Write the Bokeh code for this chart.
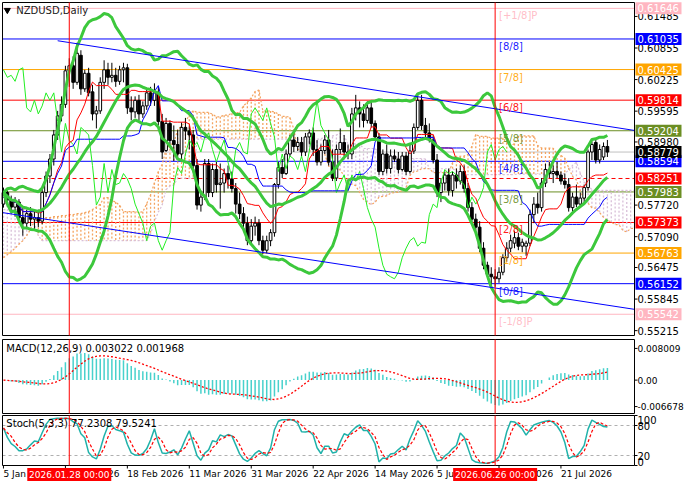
import numpy as np
import pandas as pd
from bokeh.plotting import figure
from bokeh.layouts import column
from bokeh.models import Range1d
from bokeh.embed import file_html
from bokeh.resources import INLINE
from bokeh.core.properties import value

FONT = "DejaVu Sans"

symbol_title = "NZDUSD,Daily"
x_tick_bars = [0, 16, 32, 48, 64, 80, 96, 112, 128, 144]
x_tick_labels = ["5 Jan 2026", "28 Jan 2026", "18 Feb 2026", "11 Mar 2026", "31 Mar 2026",
                 "22 Apr 2026", "14 May 2026", "5 Jun 2026", "26 Jun 2026", "21 Jul 2026"]
cursor_bars = [17, 127]
cursor_labels = ["2026.01.28 00:00", "2026.06.26 00:00"]

open_ = [0.5774, 0.5797, 0.5782, 0.5768, 0.5778, 0.5747, 0.5736, 0.5755, 0.5744, 0.5747,
         0.5740, 0.5797, 0.5830, 0.5864, 0.5912, 0.5950, 0.5973, 0.6040, 0.6050, 0.6017,
         0.6071, 0.6004, 0.6035, 0.5998, 0.5954, 0.5960, 0.6017, 0.6042, 0.6027, 0.6031,
         0.6019, 0.6042, 0.6046, 0.5966, 0.5958, 0.5981, 0.5954, 0.5970, 0.5996, 0.5981,
         0.5996, 0.5939, 0.5881, 0.5935, 0.5901, 0.5893, 0.5874, 0.5927, 0.5920, 0.5912,
         0.5851, 0.5772, 0.5788, 0.5855, 0.5797, 0.5843, 0.5813, 0.5816, 0.5835, 0.5824,
         0.5805, 0.5774, 0.5755, 0.5736, 0.5701, 0.5730, 0.5736, 0.5701, 0.5682, 0.5701,
         0.5717, 0.5813, 0.5847, 0.5835, 0.5874, 0.5902, 0.5889, 0.5897, 0.5878, 0.5908,
         0.5916, 0.5883, 0.5858, 0.5881, 0.5902, 0.5858, 0.5826, 0.5883, 0.5897, 0.5878,
         0.5874, 0.5954, 0.5966, 0.5954, 0.5941, 0.5966, 0.5935, 0.5908, 0.5839, 0.5874,
         0.5845, 0.5870, 0.5864, 0.5843, 0.5870, 0.5839, 0.5880, 0.5927, 0.5981, 0.5931,
         0.5916, 0.5902, 0.5862, 0.5797, 0.5816, 0.5832, 0.5801, 0.5832, 0.5820, 0.5839,
         0.5805, 0.5767, 0.5744, 0.5728, 0.5686, 0.5652, 0.5634, 0.5629, 0.5625, 0.5638,
         0.5667, 0.5686, 0.5696, 0.5707, 0.5690, 0.5690, 0.5696, 0.5753, 0.5774, 0.5767,
         0.5816, 0.5843, 0.5835, 0.5839, 0.5832, 0.5820, 0.5813, 0.5767, 0.5788, 0.5774,
         0.5786, 0.5807, 0.5878, 0.5897, 0.5862, 0.5868, 0.5889]
high = [0.5807, 0.5801, 0.5791, 0.5788, 0.5784, 0.5768, 0.5763, 0.5768, 0.5759, 0.5763,
        0.5805, 0.5839, 0.5874, 0.5922, 0.5960, 0.5989, 0.6050, 0.6065, 0.6069, 0.6096,
        0.6081, 0.6042, 0.6046, 0.6012, 0.5970, 0.6027, 0.6061, 0.6056, 0.6056, 0.6046,
        0.6050, 0.6056, 0.6054, 0.5989, 0.5989, 0.5992, 0.5979, 0.6004, 0.6008, 0.6015,
        0.6008, 0.5954, 0.5946, 0.5941, 0.5931, 0.5922, 0.5937, 0.5946, 0.5931, 0.5922,
        0.5864, 0.5801, 0.5864, 0.5864, 0.5855, 0.5858, 0.5855, 0.5845, 0.5851, 0.5839,
        0.5816, 0.5797, 0.5768, 0.5749, 0.5744, 0.5749, 0.5744, 0.5711, 0.5711, 0.5724,
        0.5816, 0.5858, 0.5864, 0.5883, 0.5912, 0.5920, 0.5908, 0.5908, 0.5916, 0.5923,
        0.5927, 0.5902, 0.5893, 0.5912, 0.5922, 0.5883, 0.5893, 0.5925, 0.5912, 0.5893,
        0.5966, 0.5992, 0.5979, 0.5973, 0.5979, 0.5979, 0.5941, 0.5916, 0.5883, 0.5893,
        0.5883, 0.5883, 0.5878, 0.5878, 0.5878, 0.5893, 0.5935, 0.5994, 0.5992, 0.5946,
        0.5935, 0.5912, 0.5874, 0.5826, 0.5839, 0.5845, 0.5839, 0.5845, 0.5851, 0.5851,
        0.5816, 0.5778, 0.5755, 0.5740, 0.5698, 0.5659, 0.5648, 0.5644, 0.5648, 0.5674,
        0.5698, 0.5713, 0.5721, 0.5717, 0.5705, 0.5701, 0.5763, 0.5788, 0.5797, 0.5826,
        0.5855, 0.5858, 0.5851, 0.5858, 0.5839, 0.5835, 0.5826, 0.5797, 0.5813, 0.5797,
        0.5813, 0.5883, 0.5899, 0.5905, 0.5893, 0.5897, 0.5902]
low = [0.5767, 0.5768, 0.5755, 0.5749, 0.5736, 0.5711, 0.5724, 0.5730, 0.5724, 0.5728,
       0.5734, 0.5788, 0.5816, 0.5851, 0.5902, 0.5939, 0.5966, 0.6008, 0.6004, 0.6012,
       0.5992, 0.5998, 0.5989, 0.5941, 0.5925, 0.5954, 0.6004, 0.6012, 0.6017, 0.6008,
       0.6012, 0.6017, 0.5954, 0.5941, 0.5946, 0.5941, 0.5946, 0.5962, 0.5970, 0.5970,
       0.5931, 0.5864, 0.5878, 0.5893, 0.5860, 0.5862, 0.5864, 0.5902, 0.5883, 0.5839,
       0.5763, 0.5759, 0.5782, 0.5788, 0.5788, 0.5797, 0.5765, 0.5797, 0.5805, 0.5797,
       0.5755, 0.5744, 0.5724, 0.5692, 0.5692, 0.5711, 0.5692, 0.5674, 0.5676, 0.5690,
       0.5709, 0.5805, 0.5826, 0.5832, 0.5868, 0.5878, 0.5880, 0.5870, 0.5870, 0.5893,
       0.5870, 0.5851, 0.5851, 0.5874, 0.5851, 0.5820, 0.5820, 0.5874, 0.5870, 0.5864,
       0.5864, 0.5941, 0.5927, 0.5927, 0.5935, 0.5927, 0.5902, 0.5832, 0.5832, 0.5835,
       0.5835, 0.5858, 0.5835, 0.5839, 0.5832, 0.5835, 0.5874, 0.5922, 0.5922, 0.5908,
       0.5897, 0.5855, 0.5788, 0.5778, 0.5801, 0.5791, 0.5789, 0.5805, 0.5813, 0.5797,
       0.5759, 0.5736, 0.5721, 0.5678, 0.5644, 0.5629, 0.5611, 0.5609, 0.5617, 0.5632,
       0.5659, 0.5678, 0.5686, 0.5682, 0.5678, 0.5671, 0.5690, 0.5736, 0.5755, 0.5759,
       0.5808, 0.5826, 0.5816, 0.5826, 0.5813, 0.5805, 0.5759, 0.5759, 0.5768, 0.5767,
       0.5778, 0.5801, 0.5862, 0.5855, 0.5855, 0.5862, 0.5868]
close = [0.5797, 0.5782, 0.5768, 0.5778, 0.5747, 0.5736, 0.5755, 0.5744, 0.5747, 0.5740,
         0.5797, 0.5830, 0.5864, 0.5912, 0.5950, 0.5973, 0.6040, 0.6050, 0.6017, 0.6075,
         0.6004, 0.6035, 0.5996, 0.5954, 0.5960, 0.6017, 0.6042, 0.6027, 0.6031, 0.6019,
         0.6042, 0.6046, 0.5966, 0.5958, 0.5981, 0.5954, 0.5970, 0.5996, 0.5981, 0.5996,
         0.5939, 0.5878, 0.5935, 0.5901, 0.5893, 0.5874, 0.5927, 0.5920, 0.5912, 0.5851,
         0.5772, 0.5788, 0.5855, 0.5797, 0.5843, 0.5813, 0.5816, 0.5835, 0.5824, 0.5805,
         0.5774, 0.5755, 0.5736, 0.5701, 0.5730, 0.5736, 0.5701, 0.5682, 0.5701, 0.5717,
         0.5813, 0.5847, 0.5835, 0.5874, 0.5902, 0.5889, 0.5897, 0.5878, 0.5908, 0.5916,
         0.5883, 0.5858, 0.5881, 0.5902, 0.5858, 0.5826, 0.5883, 0.5897, 0.5878, 0.5874,
         0.5954, 0.5966, 0.5954, 0.5941, 0.5966, 0.5935, 0.5908, 0.5839, 0.5874, 0.5845,
         0.5870, 0.5864, 0.5843, 0.5870, 0.5839, 0.5880, 0.5927, 0.5981, 0.5931, 0.5916,
         0.5902, 0.5862, 0.5797, 0.5816, 0.5832, 0.5801, 0.5832, 0.5820, 0.5839, 0.5805,
         0.5767, 0.5744, 0.5728, 0.5686, 0.5652, 0.5634, 0.5629, 0.5625, 0.5638, 0.5667,
         0.5686, 0.5701, 0.5707, 0.5690, 0.5698, 0.5696, 0.5753, 0.5774, 0.5767, 0.5816,
         0.5843, 0.5835, 0.5839, 0.5832, 0.5820, 0.5813, 0.5767, 0.5788, 0.5774, 0.5786,
         0.5807, 0.5878, 0.5893, 0.5862, 0.5883, 0.5889, 0.58779]

# Ichimoku cloud where the price history is too short
cloud_a_early = [0.5667, 0.5673, 0.5679, 0.5686, 0.5694, 0.5701, 0.5711, 0.5724, 0.5740, 0.5744,
                 0.5745, 0.5747, 0.5747, 0.5749, 0.5749, 0.5751, 0.5751, 0.5753, 0.5753, 0.5755,
                 0.5755, 0.5757, 0.5759, 0.5763, 0.5768, 0.5774]
cloud_b_early = [0.5763, 0.5763, 0.5763, 0.5763, 0.5763, 0.5763, 0.5763, 0.5763, 0.5736, 0.5711,
                 0.5701, 0.5701, 0.5701, 0.5701, 0.5701, 0.5701, 0.5701, 0.5701, 0.5701, 0.5701,
                 0.5701, 0.5701, 0.5701, 0.5701, 0.5701, 0.5701, 0.5701, 0.5701, 0.5701, 0.5701,
                 0.5701, 0.5701, 0.5701, 0.5701, 0.5701, 0.5701, 0.5701, 0.5701, 0.5715, 0.5739,
                 0.5758, 0.5772, 0.5803, 0.5810, 0.5812, 0.5826, 0.5826, 0.5826, 0.5826, 0.5826]

murrey_levels = [0.61646, 0.61035, 0.60425, 0.59814, 0.59204, 0.58594, 0.57983, 0.57373, 0.56763, 0.56152, 0.55542]
murrey_names = ["[+1/8]P", "[8/8]", "[7/8]", "[6/8]", "[5/8]", "[4/8]", "[3/8]", "[2/8]", "[1/8]", "[0/8]", "[-1/8]P"]
murrey_colors = ["#FFB6C1", "#0000FF", "#FFA500", "#FF0000", "#6B8E23", "#0000FF", "#6B8E23",
                 "#FF0000", "#FFA500", "#0000FF", "#FFB6C1"]
support_level = 0.58251
last_price = 0.58779
price_ticks = [0.61485, 0.60855, 0.60225, 0.59595, 0.58980, 0.57720, 0.57090, 0.56475, 0.55845, 0.55215]
channel_upper_bar = [14, 163]
channel_upper_price = [0.6100, 0.5921]
channel_lower_bar = [-0.25, 163]
channel_lower_price = [0.5757, 0.5564]
macd_text = "MACD(12,26,9) 0.003022 0.001968"
stoch_text = "Stoch(5,3,3) 77.2308 79.5241"
macd_ticks = [0.008009, 0.0, -0.006678]
macd_tick_labels = ["0.008009", "0.00", "-0.006678"]
stoch_levels = [20, 80]

assert len(open_) == len(high) == len(low) == len(close), (len(open_), len(high), len(low), len(close))

N = len(close)
xs = np.arange(N)
O = np.array(open_); Hh = np.array(high); Ll = np.array(low); C = np.array(close)
S = pd.Series(C); HS = pd.Series(Hh); LS = pd.Series(Ll)

# indicators derived from the candles
bb_mid = S.rolling(20, min_periods=1).mean()
bb_sd = S.rolling(20, min_periods=1).std(ddof=0)
bb_up = bb_mid + 2 * bb_sd
bb_lo = bb_mid - 2 * bb_sd
tenkan = (HS.rolling(9, min_periods=1).max() + LS.rolling(9, min_periods=1).min()) / 2
kijun = (HS.rolling(26, min_periods=1).max() + LS.rolling(26, min_periods=1).min()) / 2
span_a_raw = ((tenkan + kijun) / 2).values
span_b_raw = ((HS.rolling(52, min_periods=1).max() + LS.rolling(52, min_periods=1).min()) / 2).values
span_a = np.concatenate([cloud_a_early, span_a_raw])
span_b = np.concatenate([cloud_b_early, span_b_raw[len(cloud_b_early) - 26:]])
cloud_x = np.arange(len(span_a))

ema12 = S.ewm(span=12, adjust=False).mean()
ema26 = S.ewm(span=26, adjust=False).mean()
macd = (ema12 - ema26).values
macd_sig = pd.Series(macd).rolling(9, min_periods=1).mean().values

ll5 = LS.rolling(5, min_periods=1).min(); hh5 = HS.rolling(5, min_periods=1).max()
stoch_k = (100 * (S - ll5).rolling(3, min_periods=1).sum() / (hh5 - ll5).rolling(3, min_periods=1).sum()).values
stoch_d = pd.Series(stoch_k).rolling(3, min_periods=1).mean().values

# ---------------- layout geometry (pixels) ----------------
W = 684
BOX_L = 2
BOX_W = 632
AX_W = W - BOX_L - BOX_W
X0, X1 = -0.25, 163.0
PPB = BOX_W / (X1 - X0)
XR = Range1d(X0 - BOX_L / PPB, X1 + AX_W / PPB)


def px(n):
    return n / PPB


def panel(h, top_px, bot_px, vmin, vmax):
    ppv = (h - top_px - bot_px) / (vmax - vmin)
    f = figure(width=W, height=h, x_range=XR,
               y_range=Range1d(vmin - bot_px / ppv, vmax + top_px / ppv),
               output_backend="svg", toolbar_location=None,
               x_axis_location=None, y_axis_location=None, min_border=0)
    f.grid.visible = False
    f.outline_line_color = None
    f.background_fill_color = "white"
    f.border_fill_color = "white"
    return f, ppv


def frame_box(f, vmin, vmax):
    f.quad(left=[X0], right=[X1], bottom=[vmin], top=[vmax], fill_color=None,
           line_color="black", line_width=1)
    f.segment(x0=cursor_bars, x1=cursor_bars, y0=[vmin] * len(cursor_bars), y1=[vmax] * len(cursor_bars),
              line_color="red", line_width=1)


def right_ticks(f, vals, labels, baseline="middle", color="black", size="10px"):
    f.segment(x0=[X1] * len(vals), x1=[X1 + px(3)] * len(vals), y0=vals, y1=vals,
              line_color="black", line_width=1)
    f.text(x=[X1 + px(3)] * len(vals), y=vals, text=labels, text_color=color,
           text_font=value(FONT), text_font_size=size, text_baseline=baseline, text_align="left")


def hline(f, y, color, dash="solid", width=1):
    f.segment(x0=[X0], x1=[X1], y0=[y], y1=[y], line_color=color, line_width=width, line_dash=dash)


# ---------------- main price panel ----------------
PMIN, PMAX = 0.55118, 0.61763
p, ppv_main = panel(338, 2, 3, PMIN, PMAX)

for lev, col in zip(murrey_levels, murrey_colors):
    hline(p, lev, col)
hline(p, support_level, "#FF0000", "4 3")
hline(p, last_price, "#C0C0C0")

# cloud hatch
vis = cloud_x <= X1
cx = cloud_x[vis]; ca = span_a[vis]; cb = span_b[vis]
hcol = np.where(ca >= cb, "#F4A460", "#D8BFD8")
p.segment(x0=cx, y0=ca, x1=cx, y1=cb, line_color=hcol, line_width=1.3, line_dash="2 2")
p.line(cx, ca, line_color="#F4A460", line_width=1.2, line_dash="2 2")
p.line(cx, cb, line_color="#D8BFD8", line_width=1.2, line_dash="2 2")

# candles
top_ = np.maximum(O, C); bot_ = np.minimum(O, C)
bull = C >= O
p.segment(x0=xs, y0=Ll, x1=xs, y1=Hh, line_color="black", line_width=1)
p.vbar(x=xs[bull], width=0.7, top=top_[bull], bottom=bot_[bull], fill_color="white", line_color="black", line_width=1)
p.vbar(x=xs[~bull], width=0.7, top=top_[~bull], bottom=bot_[~bull], fill_color="black", line_color="black", line_width=1)

# indicators
chik = xs - 26 >= 0
p.line((xs - 26)[chik], C[chik], line_color="#22EE22", line_width=1)
p.line(xs, tenkan.values, line_color="red", line_width=1)
p.line(xs, kijun.values, line_color="blue", line_width=1)
for band in (bb_up, bb_mid, bb_lo):
    p.line(xs, band.values, line_color="#3CC83C", line_width=3)

p.line(channel_upper_bar, channel_upper_price, line_color="blue", line_width=1)
p.line(channel_lower_bar, channel_lower_price, line_color="blue", line_width=1)

p.text(x=[128] * len(murrey_levels), y=murrey_levels, text=murrey_names, text_color=murrey_colors,
       text_font=value(FONT), text_font_size="10px", text_baseline="top", text_align="left", y_offset=2,
       text_alpha=0.9)

p.scatter([1.0], [0.6161], marker="inverted_triangle", size=6, color="black")
p.text(x=[3.3], y=[0.6161], text=[symbol_title], text_font=value(FONT), text_font_size="10px",
       text_baseline="middle", text_color="#202020")

frame_box(p, PMIN, PMAX)
right_ticks(p, price_ticks, ["%.5f" % t for t in price_ticks])
box_vals = murrey_levels + [support_level, last_price]
box_cols = murrey_colors + ["#FF0000", "#000000"]
p.rect(x=[X1 + px(24)] * len(box_vals), y=box_vals, width=46, height=12, width_units="screen",
       height_units="screen", fill_color=box_cols, line_color=None)
p.text(x=[X1 + px(3)] * len(box_vals), y=box_vals, text=["%.5f" % v for v in box_vals], text_color="white",
       text_font=value(FONT), text_font_size="10px", text_baseline="middle", text_align="left")

# ---------------- MACD panel ----------------
MMIN, MMAX = -0.00843, 0.01026
m, _ = panel(76, 1, 1, MMIN, MMAX)
m.segment(x0=xs, y0=np.zeros(N), x1=xs, y1=macd, line_color="#48D1CC", line_width=1.5)
m.line(xs, macd_sig, line_color="red", line_width=1.3, line_dash="2 2")
m.text(x=[0.75], y=[0.00801], text=[macd_text], text_font=value(FONT), text_font_size="10px",
       text_baseline="middle", text_color="black")
frame_box(m, MMIN, MMAX)
right_ticks(m, macd_ticks, macd_tick_labels, size="9px")

# ---------------- Stochastic panel ----------------
s, ppv_s = panel(68, 1, 17, 0, 100)
for lv in stoch_levels:
    s.segment(x0=[X0], x1=[X1], y0=[lv], y1=[lv], line_color="#B0B0B0", line_width=1, line_dash="3 3")
s.line(xs, stoch_k, line_color="#20B2AA", line_width=1.5)
s.line(xs, stoch_d, line_color="red", line_width=1.2, line_dash="3 2")
s.text(x=[0.75], y=[84], text=[stoch_text], text_font=value(FONT), text_font_size="10px",
       text_baseline="middle", text_color="black")
frame_box(s, 0, 100)
right_ticks(s, [100], ["100"], baseline="top")
right_ticks(s, [80, 20], ["80", "20"])
right_ticks(s, [0], ["0"], baseline="bottom")

# x axis (dates) below the stochastic box
dy = 1 / ppv_s
s.segment(x0=x_tick_bars, x1=x_tick_bars, y0=[0] * len(x_tick_bars), y1=[-3 * dy] * len(x_tick_bars),
          line_color="black", line_width=1)
s.text(x=x_tick_bars, y=[-3 * dy] * len(x_tick_bars), text=x_tick_labels, text_font=value(FONT),
       text_font_size="9px", text_baseline="top", text_align="left", text_color="black")
s.rect(x=cursor_bars, y=[-9 * dy] * len(cursor_bars), width=84, height=13, width_units="screen",
       height_units="screen", fill_color="red", line_color=None)
s.text(x=cursor_bars, y=[-9 * dy] * len(cursor_bars), text=cursor_labels, text_font=value(FONT),
       text_font_size="9px", text_baseline="middle", text_align="center", text_color="white")

layout = column(p, m, s, spacing=0)
open("out.html", "w").write(file_html(layout, INLINE))
